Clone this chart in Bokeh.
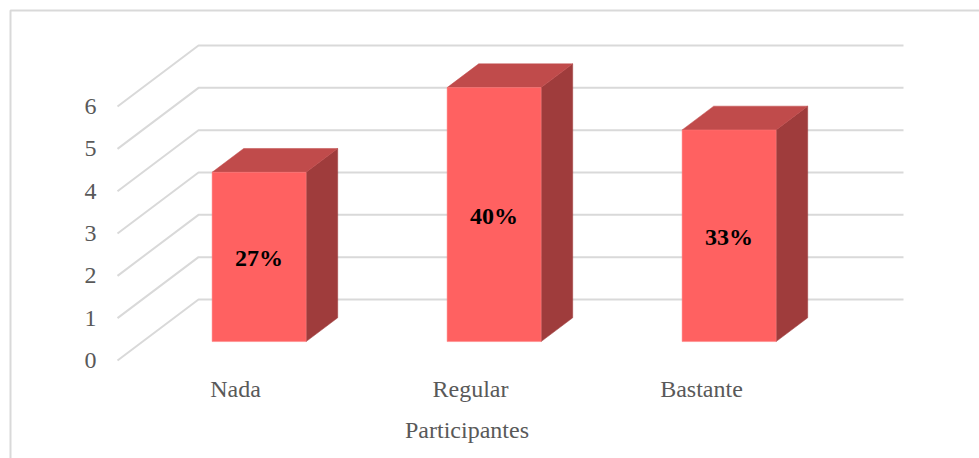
from bokeh.embed import file_html
from bokeh.resources import INLINE
from bokeh.models import Range1d, LinearAxis, FixedTicker, ColumnDataSource
from bokeh.plotting import figure
from bokeh.core.properties import value

categories = ["Nada", "Regular", "Bastante"]
values = [4, 6, 5]
percent_labels = ["27%", "40%", "33%"]
value_ticks = [0, 1, 2, 3, 4, 5, 6]
axis_title = "Participantes"

# layout of the picture, in pixels
W, H = 979, 458
PX_PAGE = 0
PX_PER_CAT = 235.0
PX_PER_UNIT = 42.33
PX_CAT0 = 235.0      # front plane pixel x of the first category
PX_ZERO = 360.0      # front plane pixel y of value 0
PX_DEPTH_X = 81.0    # shift from front to back wall
PX_DEPTH_Y = 61.0
PX_BAR_NUDGE = -1.5
CAT_LABEL_POS = [0, 1, 1.983]

def dx(px):
    return (px - PX_CAT0) / PX_PER_CAT

def dy(px):
    return (PX_ZERO - px) / PX_PER_UNIT

DEPTH_X = PX_DEPTH_X / PX_PER_CAT
DEPTH_Y = PX_DEPTH_Y / PX_PER_UNIT
BAR_W = 94 / PX_PER_CAT
D_FRONT, D_BACK = 0.31, 0.70
BAR_SHIFT = DEPTH_X * D_FRONT + PX_BAR_NUDGE / PX_PER_CAT

p = figure(width=W, height=H, output_backend="svg", toolbar_location=None,
           x_range=Range1d(dx(PX_PAGE), dx(PX_PAGE + W)),
           y_range=Range1d(dy(PX_PAGE + H), dy(PX_PAGE)),
           min_border=0, x_axis_type=None, y_axis_type=None,
           background_fill_color="white", border_fill_color="white")
p.outline_line_color = None
p.grid.visible = False

GREY = "#D9D9D9"
TEXT = "#595959"
FONT = "Liberation Serif"

# chart frame: only its left and top edges are inside the crop
p.line([dx(10), dx(10), dx(PX_PAGE + W)], [dy(PX_PAGE + H), dy(10), dy(10)],
       line_color=GREY, line_width=2)

# walls: floor-to-back strokes and back-wall gridlines
x_front = dx(117)
x_back = x_front + DEPTH_X
x_right = dx(903)
p.multi_line([[x_front, x_back, x_right] for _ in value_ticks],
             [[v, v + DEPTH_Y, v + DEPTH_Y] for v in value_ticks],
             line_color=GREY, line_width=2)

# bars
side_x, side_y, top_x, top_y, front_x, front_y = [], [], [], [], [], []
for i, v in enumerate(values):
    l = i + BAR_SHIFT - BAR_W / 2
    r = l + BAR_W
    ox = DEPTH_X * (D_BACK - D_FRONT)
    oy = DEPTH_Y * (D_BACK - D_FRONT)
    b = DEPTH_Y * D_FRONT
    t = b + v
    front_x.append([l, r, r, l])
    front_y.append([b, b, t, t])
    side_x.append([r, r + ox, r + ox, r])
    side_y.append([b, b + oy, t + oy, t])
    top_x.append([l, r, r + ox, l + ox])
    top_y.append([t, t, t + oy, t + oy])

p.patches(side_x, side_y, fill_color="#9F3C3C", line_color="#9F3C3C", line_width=0.5)
p.patches(top_x, top_y, fill_color="#C04B4B", line_color="#C04B4B", line_width=0.5)
p.patches(front_x, front_y, fill_color="#FF6161", line_color="#FF7C7C", line_width=0.5)

# percentage labels, in the middle of the front faces
src = ColumnDataSource(dict(
    x=[i + BAR_SHIFT for i in range(len(values))],
    y=[DEPTH_Y * D_FRONT + v / 2 - 1.5 / PX_PER_UNIT for v in values],
    t=percent_labels))
p.text("x", "y", text="t", source=src, text_align="center", text_baseline="middle",
       text_font=value(FONT), text_font_style="bold", text_font_size="24px",
       text_color="black")

# real axes placed inside the frame
yaxis = LinearAxis(ticker=FixedTicker(ticks=value_ticks), fixed_location=x_front,
                   axis_line_color=None, major_tick_line_color=None,
                   minor_tick_line_color=None, major_label_standoff=15,
                   major_label_text_font=FONT, major_label_text_font_size="24px",
                   major_label_text_color=TEXT)
p.add_layout(yaxis, "left")

xaxis = LinearAxis(ticker=FixedTicker(ticks=CAT_LABEL_POS),
                   major_label_overrides={pos: c for pos, c in zip(CAT_LABEL_POS, categories)},
                   fixed_location=0,
                   axis_line_color=None, major_tick_line_color=None,
                   minor_tick_line_color=None, major_label_standoff=9,
                   major_label_text_font=FONT, major_label_text_font_size="24px",
                   major_label_text_color=TEXT)
p.add_layout(xaxis, "below")

# axis title
p.text([dx(466.5)], [dy(429)], text=[axis_title], text_align="center",
       text_baseline="middle", text_font=value(FONT), text_font_size="24px",
       text_color=TEXT)

open("out.html", "w").write(file_html(p, INLINE))
